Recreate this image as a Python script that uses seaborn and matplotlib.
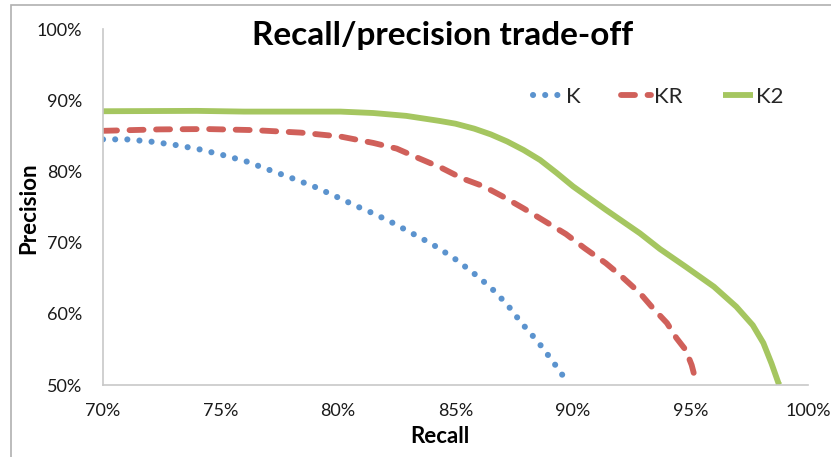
import matplotlib
matplotlib.use("Agg")
import matplotlib.pyplot as plt
import matplotlib.patches as patches
from matplotlib.ticker import FuncFormatter
import seaborn as sns
import pandas as pd

# values (recall %, precision %)
k_recall = [70.0, 71.0, 72.0, 73.1, 74.1, 75.1, 76.1, 77.0, 78.0, 79.0, 79.9, 80.8, 81.3,
            82.2, 83.1, 84.0, 84.9, 85.7, 86.5, 87.2, 87.8, 88.5, 89.1, 89.7, 89.8]
k_precision = [84.5, 84.5, 84.2, 83.7, 83.1, 82.3, 81.4, 80.3, 79.1, 77.85, 76.5, 75.1, 74.4,
               73.0, 71.4, 69.8, 67.9, 65.9, 63.7, 61.3, 58.75, 56.1, 53.5, 50.7, 50.0]

kr_recall = [70.0, 72.4, 74.4, 76.4, 78.4, 80.1, 81.5, 82.5, 83.4, 84.4, 85.3, 86.2, 87.0,
             87.9, 88.8, 89.7, 90.5, 91.4, 92.0, 92.85, 93.4, 94.0, 94.4, 94.8, 95.05,
             95.2, 95.22]
kr_precision = [85.7, 85.9, 85.95, 85.8, 85.45, 84.9, 84.0, 83.2, 81.9, 80.5, 79.0, 77.9, 76.5,
                74.8, 73.0, 71.2, 69.2, 67.1, 65.45, 62.9, 60.8, 58.7, 56.6, 54.9, 52.8,
                50.9, 50.0]

k2_recall = [70.0, 74.0, 76.0, 78.0, 80.1, 81.5, 82.9, 84.3, 85.0, 85.8, 86.5, 87.2, 87.9,
             88.6, 89.3, 90.0, 91.4, 92.85, 93.7, 94.8, 96.0, 96.95, 97.65, 98.1, 98.45,
             98.75, 98.8]
k2_precision = [88.45, 88.5, 88.4, 88.4, 88.4, 88.2, 87.8, 87.1, 86.7, 86.0, 85.2, 84.2, 83.0,
                81.6, 79.8, 77.9, 74.6, 71.3, 69.1, 66.6, 63.8, 61.0, 58.4, 55.9, 53.0,
                50.2, 50.0]

x_ticks = [70, 75, 80, 85, 90, 95, 100]
y_ticks = [50, 60, 70, 80, 90, 100]

sns.set_theme(style="white")
plt.rcParams["font.family"] = ["Lato", "DejaVu Sans"]

fig = plt.figure(figsize=(8.31, 4.57), dpi=100)
ax = fig.add_axes([103 / 831, 1 - 385 / 457, 705 / 831, 356 / 457])

# outer chart border (cut off at right and bottom like the reference)
fig.patches.append(patches.Rectangle((11 / 831, -0.1), 1.2, 1 - 5 / 457 + 0.1,
                                     transform=fig.transFigure, fill=False,
                                     edgecolor="#b0b0b0", linewidth=1.2))

blue = "#5B93CE"
red = "#D0605A"
green = "#A5C660"

df_k = pd.DataFrame({"recall": k_recall, "precision": k_precision})
df_kr = pd.DataFrame({"recall": kr_recall, "precision": kr_precision})
df_k2 = pd.DataFrame({"recall": k2_recall, "precision": k2_precision})

sns.lineplot(data=df_k, x="recall", y="precision", ax=ax, color=blue, linewidth=4.4,
             linestyle=(0, (0.01, 1.98)), dash_capstyle="round", label="K", sort=False)
sns.lineplot(data=df_kr, x="recall", y="precision", ax=ax, color=red, linewidth=4.2,
             linestyle=(0, (2.4, 2.15)), dash_capstyle="round", label="KR", sort=False)
sns.lineplot(data=df_k2, x="recall", y="precision", ax=ax, color=green, linewidth=4.2,
             solid_capstyle="butt", solid_joinstyle="round", label="K2", sort=False)

ax.set_xlim(70, 100)
ax.set_ylim(50, 100)
ax.set_xticks(x_ticks)
ax.set_yticks(y_ticks)
pct = FuncFormatter(lambda v, _: f"{v:.0f}%")
ax.xaxis.set_major_formatter(pct)
ax.yaxis.set_major_formatter(pct)

for side in ["top", "right"]:
    ax.spines[side].set_visible(False)
for side in ["left", "bottom"]:
    ax.spines[side].set_color("#c8c8c8")
    ax.spines[side].set_linewidth(1.2)

ax.tick_params(axis="both", which="major", direction="out", length=5, width=1,
               color="#c8c8c8", labelsize=13, labelcolor="#1a1a1a")
ax.tick_params(axis="x", pad=8)
ax.tick_params(axis="y", pad=10)

ax.set_xlabel("Recall", fontsize=16, fontweight="bold", color="black")
ax.xaxis.set_label_coords(0.478, -0.163)
ax.xaxis.label.set_va("baseline")
ax.set_ylabel("Precision", fontsize=16, fontweight="bold", color="black")
ax.yaxis.set_label_coords(-0.105, 0.497)
ax.yaxis.label.set_va("center")

fig.text(443 / 831, 1 - 45 / 457, "Recall/precision trade-off", ha="center", va="baseline",
         fontsize=24, fontweight="bold", color="black")

leg = ax.legend(loc="center left", bbox_to_anchor=(533 / 831, 1 - 97 / 457),
                bbox_transform=fig.transFigure, ncol=3, frameon=False,
                fontsize=16, handlelength=1.35, handletextpad=0.15, columnspacing=1.8,
                borderaxespad=0, borderpad=0)

fig.savefig("out.png", dpi=100)
